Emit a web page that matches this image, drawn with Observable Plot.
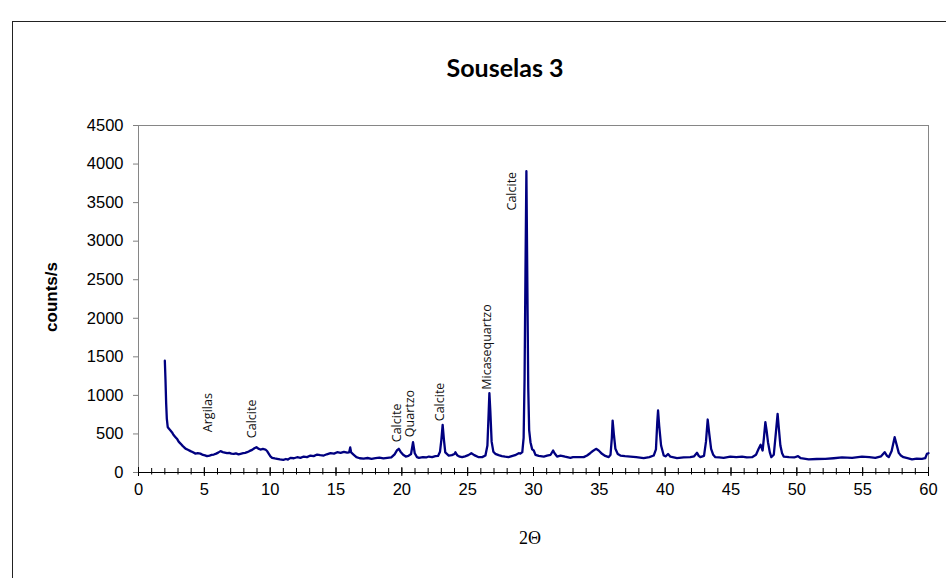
<!DOCTYPE html>
<html>
<head>
<meta charset="utf-8">
<script src="https://cdn.jsdelivr.net/npm/d3@7"></script>
<script src="https://cdn.jsdelivr.net/npm/@observablehq/plot@0.6"></script>
<style>
  body { margin: 0; background: #fff; overflow: hidden; }
  #wrap { position: relative; width: 946px; height: 578px; overflow: hidden; }
  #border { position: absolute; left: 12px; top: 21px; width: 2000px; height: 2000px;
            border-left: 1.5px solid #222; border-top: 1.5px solid #222; }
  #title { position: absolute; left: 355px; width: 300px; top: 52px; text-align: center;
           font: bold 25px Lato, "Open Sans", sans-serif; color: #000; line-height: 1.2; }
  #ylab { position: absolute; left: 52px; top: 297px; transform: translate(-50%, -50%) rotate(-90deg);
          font: bold 17px "Liberation Sans", Arial, sans-serif; white-space: nowrap; color: #000; }
  #xlab { position: absolute; left: 530px; top: 538px; transform: translate(-50%, -50%);
          font: 18px "Liberation Serif", "Times New Roman", serif; white-space: nowrap; color: #000; }
  #chart { position: absolute; left: 0; top: 0; }
</style>
</head>
<body>
<div id="wrap">
  <div id="border"></div>
  <div id="chart"></div>
  <div id="title">Souselas 3</div>
  <div id="ylab">counts/s</div>
  <div id="xlab">2Θ</div>
</div>
<script>
// Diffraction scan: 2θ positions (degrees) and measured intensity (counts/s)
const theta = [
  2.00, 2.05, 2.10, 2.15, 2.22, 2.30, 2.43, 2.55, 2.65, 2.81, 2.95, 3.05, 3.19, 3.35, 3.45, 3.57, 3.75, 3.95,
  4.10, 4.33, 4.50, 4.70, 4.90, 5.05, 5.20, 5.40, 5.55, 5.72, 5.90, 6.05, 6.23, 6.40, 6.55, 6.73, 6.90, 7.05,
  7.24, 7.40, 7.60, 7.75, 7.95, 8.10, 8.25, 8.45, 8.63, 8.80, 8.96, 9.10, 9.26, 9.45, 9.64, 9.78, 9.90, 10.02,
  10.15, 10.35, 10.53, 10.75, 11.00, 11.20, 11.35, 11.54, 11.80, 12.05, 12.30, 12.55, 12.80, 13.06, 13.30, 13.57,
  13.80, 14.07, 14.30, 14.58, 14.85, 15.09, 15.35, 15.60, 15.85, 16.00, 16.08, 16.15, 16.35, 16.55, 16.80, 17.10,
  17.40, 17.70, 18.00, 18.30, 18.60, 18.90, 19.20, 19.45, 19.64, 19.77, 19.90, 20.10, 20.30, 20.50, 20.70, 20.85,
  20.98, 21.15, 21.30, 21.60, 21.85, 22.05, 22.30, 22.55, 22.75, 22.90, 23.00, 23.10, 23.20, 23.30, 23.56, 23.80,
  24.00, 24.07, 24.20, 24.40, 24.58, 24.80, 25.05, 25.28, 25.50, 25.80, 26.10, 26.35, 26.50, 26.60, 26.65, 26.72,
  26.82, 26.95, 27.10, 27.35, 27.60, 27.85, 28.10, 28.35, 28.60, 28.88, 29.00, 29.15, 29.25, 29.32, 29.39, 29.46,
  29.53, 29.60, 29.67, 29.77, 29.90, 30.02, 30.15, 30.40, 30.78, 31.03, 31.30, 31.49, 31.60, 31.79, 32.05, 32.40,
  32.80, 33.00, 33.40, 33.81, 34.07, 34.30, 34.45, 34.75, 34.95, 35.20, 35.45, 35.71, 35.85, 35.95, 36.01, 36.10,
  36.22, 36.40, 36.60, 36.95, 37.36, 37.80, 38.37, 38.80, 39.13, 39.30, 39.40, 39.46, 39.55, 39.69, 39.89, 40.05,
  40.22, 40.40, 40.90, 41.40, 41.91, 42.20, 42.42, 42.55, 42.67, 42.95, 43.10, 43.23, 43.35, 43.49, 43.65, 43.81,
  44.10, 44.44, 44.95, 45.40, 45.84, 46.20, 46.60, 46.90, 47.10, 47.25, 47.40, 47.50, 47.61, 47.70, 47.81, 47.95,
  48.06, 48.25, 48.40, 48.54, 48.62, 48.75, 48.88, 49.00, 49.40, 49.80, 50.09, 50.30, 50.90, 51.50, 52.16, 52.80,
  53.43, 54.20, 54.95, 55.50, 55.96, 56.40, 56.67, 56.85, 56.98, 57.20, 57.43, 57.55, 57.74, 57.90, 58.10, 58.40,
  58.75, 59.10, 59.50, 59.75, 59.88, 60.00
];
const counts = [
  1450, 1200, 900, 700, 590, 570, 545, 520, 490, 458, 430, 400, 375, 345, 330, 310, 295, 277,
  265, 245, 250, 245, 228, 222, 212, 220, 228, 233, 245, 258, 277, 265, 258, 250, 255, 245,
  242, 248, 236, 242, 250, 255, 263, 280, 294, 315, 328, 310, 298, 305, 298, 275, 242, 210,
  190, 182, 177, 170, 164, 175, 168, 190, 185, 198, 190, 207, 200, 220, 212, 233,
  225, 220, 236, 250, 245, 263, 255, 268, 258, 262, 325, 260, 230, 199, 185, 180,
  188, 178, 186, 192, 182, 190, 195, 235, 290, 307, 270, 230, 207, 215, 240, 393,
  250, 200, 190, 200, 195, 207, 200, 212, 215, 270, 420, 618, 420, 260, 220, 225,
  240, 263, 225, 205, 199, 210, 225, 250, 225, 200, 199, 220, 350, 800, 1029, 800,
  400, 270, 242, 225, 212, 205, 199, 212, 225, 250, 245, 265, 450, 1200, 2600, 3908,
  2500, 1100, 550, 393, 300, 285, 229, 215, 207, 220, 230, 285, 250, 207, 220, 205,
  190, 199, 200, 199, 220, 250, 272, 307, 285, 242, 215, 199, 230, 450, 674, 500,
  307, 240, 220, 212, 207, 198, 186, 200, 220, 300, 650, 804, 600, 350, 220, 210,
  240, 205, 186, 195, 199, 210, 255, 215, 199, 215, 400, 687, 500, 307, 230, 199,
  195, 190, 207, 200, 207, 195, 199, 230, 307, 359, 285, 450, 653, 550, 393, 260,
  199, 230, 500, 761, 600, 350, 250, 207, 200, 195, 212, 185, 169, 175, 177, 185,
  195, 190, 207, 200, 190, 210, 263, 215, 199, 280, 458, 380, 255, 220, 199, 185,
  169, 180, 177, 185, 242, 250
];

// Phase annotations: text, 2θ position, intensity where the label starts
const labelText  = ["Argilas", "Calcite", "Calcite", "Quartzo", "Calcite", "Micasequartzo", "Calcite"];
const labelTheta = [5.3, 8.63, 19.64, 20.65, 22.93, 26.48, 28.4];
const labelCount = [523, 445, 393, 458, 665, 1073, 3398];

// Axis ticks
const yTicks = [0, 500, 1000, 1500, 2000, 2500, 3000, 3500, 4000, 4500];
const xTicks = [0, 5, 10, 15, 20, 25, 30, 35, 40, 45, 50, 55, 60];
const xMinorTicks = d3.range(0, 61, 1);

const scan = theta.map((t, i) => ({t, c: counts[i]}));
const labels = labelText.map((text, i) => ({text, t: labelTheta[i], c: labelCount[i]}));

const chart = Plot.plot({
  width: 946,
  height: 578,
  marginLeft: 138,
  marginRight: 18,
  marginTop: 125,
  marginBottom: 106,
  style: {background: "transparent", fontFamily: "'Liberation Sans', Arial, sans-serif", fontSize: "16.5px", color: "#000"},
  x: {domain: [0, 60]},
  y: {domain: [0, 4500]},
  marks: [
    Plot.frame({stroke: "#868686"}),
    Plot.axisY(yTicks, {tickSize: 5, tickPadding: 10, tickFormat: d => String(d), label: null, stroke: "#808080", fill: "#000"}),
    Plot.axisX(xTicks, {tickSize: 0, tickPadding: 11, tickFormat: d => String(d), label: null, fill: "#000"}),
    Plot.ruleX(xMinorTicks, {insetTop: 343, insetBottom: -2.5, stroke: "#000"}),
    Plot.ruleX(xTicks, {insetTop: 342, insetBottom: -4, stroke: "#000"}),
    Plot.ruleY([0], {stroke: "#000"}),
    Plot.line(scan, {x: "t", y: "c", stroke: "#000080", strokeWidth: 2.3, strokeLinejoin: "round"}),
    Plot.text(labels, {x: "t", y: "c", text: "text", rotate: -90, textAnchor: "start",
      fontFamily: "'Open Sans', sans-serif", fontSize: 12.5, fill: "#111"})
  ]
});
document.getElementById("chart").appendChild(chart);
</script>
</body>
</html>
